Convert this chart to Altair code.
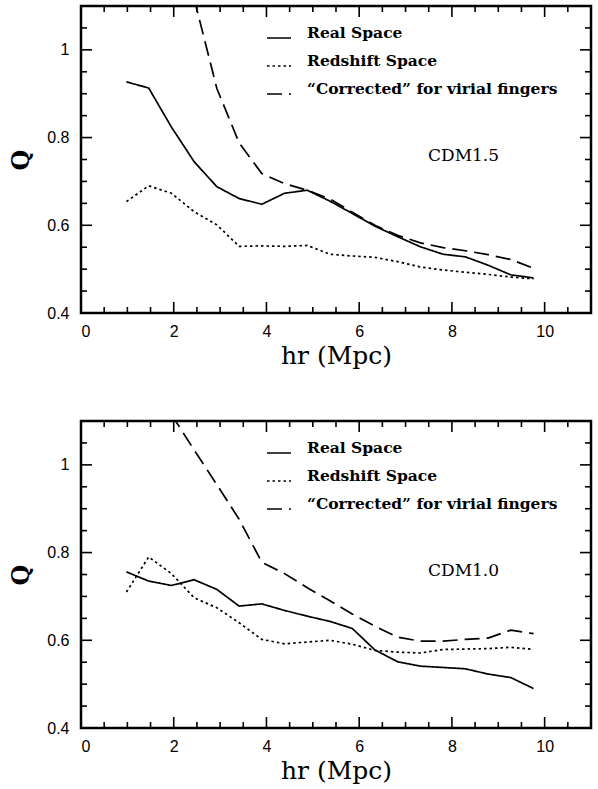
import altair as alt
import pandas as pd

# ---------------- data ----------------
r_grid = [0.98, 1.46, 1.95, 2.44, 2.93, 3.41, 3.90, 4.39, 4.88, 5.37,
          5.85, 6.34, 6.83, 7.32, 7.81, 8.29, 8.78, 9.27, 9.76]

# Panel 1: CDM1.5
top_real = [0.927, 0.913, 0.824, 0.745, 0.688, 0.661, 0.648, 0.673, 0.680, 0.655,
            0.627, 0.598, 0.574, 0.551, 0.534, 0.528, 0.509, 0.487, 0.480]
top_redshift = [0.654, 0.690, 0.673, 0.631, 0.601, 0.552, 0.553, 0.552, 0.554, 0.534,
                0.530, 0.527, 0.517, 0.505, 0.498, 0.493, 0.488, 0.482, 0.478]
top_corr_x = [2.44, 2.93, 3.41, 3.90, 4.39, 4.88, 5.37, 5.85, 6.34, 6.83,
              7.32, 7.81, 8.29, 8.78, 9.27, 9.76]
top_corrected = [1.117, 0.912, 0.788, 0.718, 0.695, 0.680, 0.660, 0.630, 0.600, 0.577,
                 0.560, 0.549, 0.542, 0.533, 0.522, 0.502]

# Panel 2: CDM1.0
bot_real = [0.756, 0.735, 0.725, 0.738, 0.716, 0.678, 0.683, 0.668, 0.655, 0.643,
            0.627, 0.578, 0.551, 0.541, 0.538, 0.535, 0.523, 0.515, 0.490]
bot_redshift = [0.710, 0.790, 0.752, 0.697, 0.674, 0.640, 0.602, 0.592, 0.596, 0.600,
                0.591, 0.577, 0.573, 0.571, 0.579, 0.580, 0.581, 0.584, 0.579]
bot_corr_x = [1.95, 2.44, 2.93, 3.41, 3.90, 4.39, 4.88, 5.37, 5.85, 6.34,
              6.83, 7.32, 7.81, 8.29, 8.78, 9.27, 9.76]
bot_corrected = [1.115, 1.034, 0.955, 0.876, 0.778, 0.752, 0.720, 0.690, 0.660, 0.632,
                 0.607, 0.598, 0.598, 0.602, 0.605, 0.623, 0.615]

series_names = ["Real Space", "Redshift Space", "\u201cCorrected\u201d for virial fingers"]
panel_labels = ["CDM1.5", "CDM1.0"]

x_label_ticks = [0, 2, 4, 6, 8, 10]
y_label_ticks = [0.4, 0.6, 0.8, 1.0]
x_major_ticks = [2, 4, 6, 8, 10]
x_minor_ticks = [0.5, 1, 1.5, 2.5, 3, 3.5, 4.5, 5, 5.5, 6.5, 7, 7.5, 8.5, 9, 9.5, 10.5]
y_major_ticks = [0.6, 0.8, 1.0]
y_minor_ticks = [0.45, 0.5, 0.55, 0.65, 0.7, 0.75, 0.85, 0.9, 0.95, 1.05]

# ---------------- layout / style ----------------
W, H = 510, 307
MAJ, MIN = 11, 6
SERIF = "DejaVu Serif"
SANS = "Liberation Sans"

xscale = alt.Scale(domain=[0, 11], nice=False, zero=False)
yscale = alt.Scale(domain=[0.4, 1.1], nice=False, zero=False)
dash_scale = alt.Scale(domain=series_names, range=[[1, 0], [2.5, 3], [15, 7]])


def panel(xr, real, red, xc, corr, label):
    df = pd.concat([
        pd.DataFrame({"x": xr, "y": real, "s": series_names[0]}),
        pd.DataFrame({"x": xr, "y": red, "s": series_names[1]}),
        pd.DataFrame({"x": xc, "y": corr, "s": series_names[2]}),
    ])
    lines = alt.Chart(df).mark_line(clip=True, color="black", strokeWidth=1.7).encode(
        x=alt.X("x:Q", scale=xscale, title="hr (Mpc)",
                axis=alt.Axis(values=x_label_ticks, format="d", tickSize=0, domain=False,
                              grid=False, labelFont=SANS, labelFontSize=16, labelPadding=10,
                              labelColor="black", titleFont=SERIF, titleFontSize=25,
                              titleFontWeight="normal", titleColor="black", titlePadding=4)),
        y=alt.Y("y:Q", scale=yscale, title="Q",
                axis=alt.Axis(values=y_label_ticks, tickSize=0, domain=False, grid=False,
                              labelExpr="datum.value == 1 ? '1' : format(datum.value, '.1f')",
                              labelFont=SANS, labelFontSize=16, labelPadding=12,
                              labelColor="black", titleFont=SERIF, titleFontSize=24,
                              titleFontWeight="bold", titleColor="black", titlePadding=13)),
        strokeDash=alt.StrokeDash(
            "s:N", scale=dash_scale, sort=series_names,
            legend=alt.Legend(title=None, orient="none", legendX=185, legendY=19,
                              symbolType="stroke", symbolSize=576, symbolStrokeWidth=1.7,
                              symbolStrokeColor="black", labelFont=SERIF, labelFontSize=15.5,
                              labelFontWeight="bold", labelColor="black", labelOffset=15,
                              labelBaseline="alphabetic", rowPadding=11, padding=0,
                              labelLimit=400)),
        order=alt.Order("x:Q"),
    )

    xmaj = pd.DataFrame({"x": x_major_ticks})
    xmin = pd.DataFrame({"x": x_minor_ticks})
    ymaj = pd.DataFrame({"y": y_major_ticks})
    ymin = pd.DataFrame({"y": y_minor_ticks})
    tick = dict(color="black", strokeWidth=1.6)
    ticks = [
        alt.Chart(xmaj).mark_rule(**tick).encode(x=alt.X("x:Q", scale=xscale), y=alt.value(H), y2=alt.value(H - MAJ)),
        alt.Chart(xmin).mark_rule(**tick).encode(x=alt.X("x:Q", scale=xscale), y=alt.value(H), y2=alt.value(H - MIN)),
        alt.Chart(xmaj).mark_rule(**tick).encode(x=alt.X("x:Q", scale=xscale), y=alt.value(0), y2=alt.value(MAJ)),
        alt.Chart(xmin).mark_rule(**tick).encode(x=alt.X("x:Q", scale=xscale), y=alt.value(0), y2=alt.value(MIN)),
        alt.Chart(ymaj).mark_rule(**tick).encode(y=alt.Y("y:Q", scale=yscale), x=alt.value(0), x2=alt.value(MAJ)),
        alt.Chart(ymin).mark_rule(**tick).encode(y=alt.Y("y:Q", scale=yscale), x=alt.value(0), x2=alt.value(MIN)),
        alt.Chart(ymaj).mark_rule(**tick).encode(y=alt.Y("y:Q", scale=yscale), x=alt.value(W), x2=alt.value(W - MAJ)),
        alt.Chart(ymin).mark_rule(**tick).encode(y=alt.Y("y:Q", scale=yscale), x=alt.value(W), x2=alt.value(W - MIN)),
    ]
    txt = alt.Chart(pd.DataFrame({"t": [label]})).mark_text(
        font=SERIF, fontSize=17, color="black", align="left", baseline="alphabetic"
    ).encode(text="t:N", x=alt.value(347), y=alt.value(155))

    return alt.layer(lines, *ticks, txt).properties(width=W, height=H)


top = panel(r_grid, top_real, top_redshift, top_corr_x, top_corrected, panel_labels[0])
bot = panel(r_grid, bot_real, bot_redshift, bot_corr_x, bot_corrected, panel_labels[1])

chart = alt.vconcat(top, bot, spacing=48).resolve_scale(
    strokeDash="independent").resolve_legend(strokeDash="independent").properties(
    padding={"left": 8, "top": 3, "right": 0, "bottom": 0}
).configure(background="white").configure_view(stroke="black", strokeWidth=2.5)

chart.save("out.html", embed_options={"renderer": "svg", "actions": False})
